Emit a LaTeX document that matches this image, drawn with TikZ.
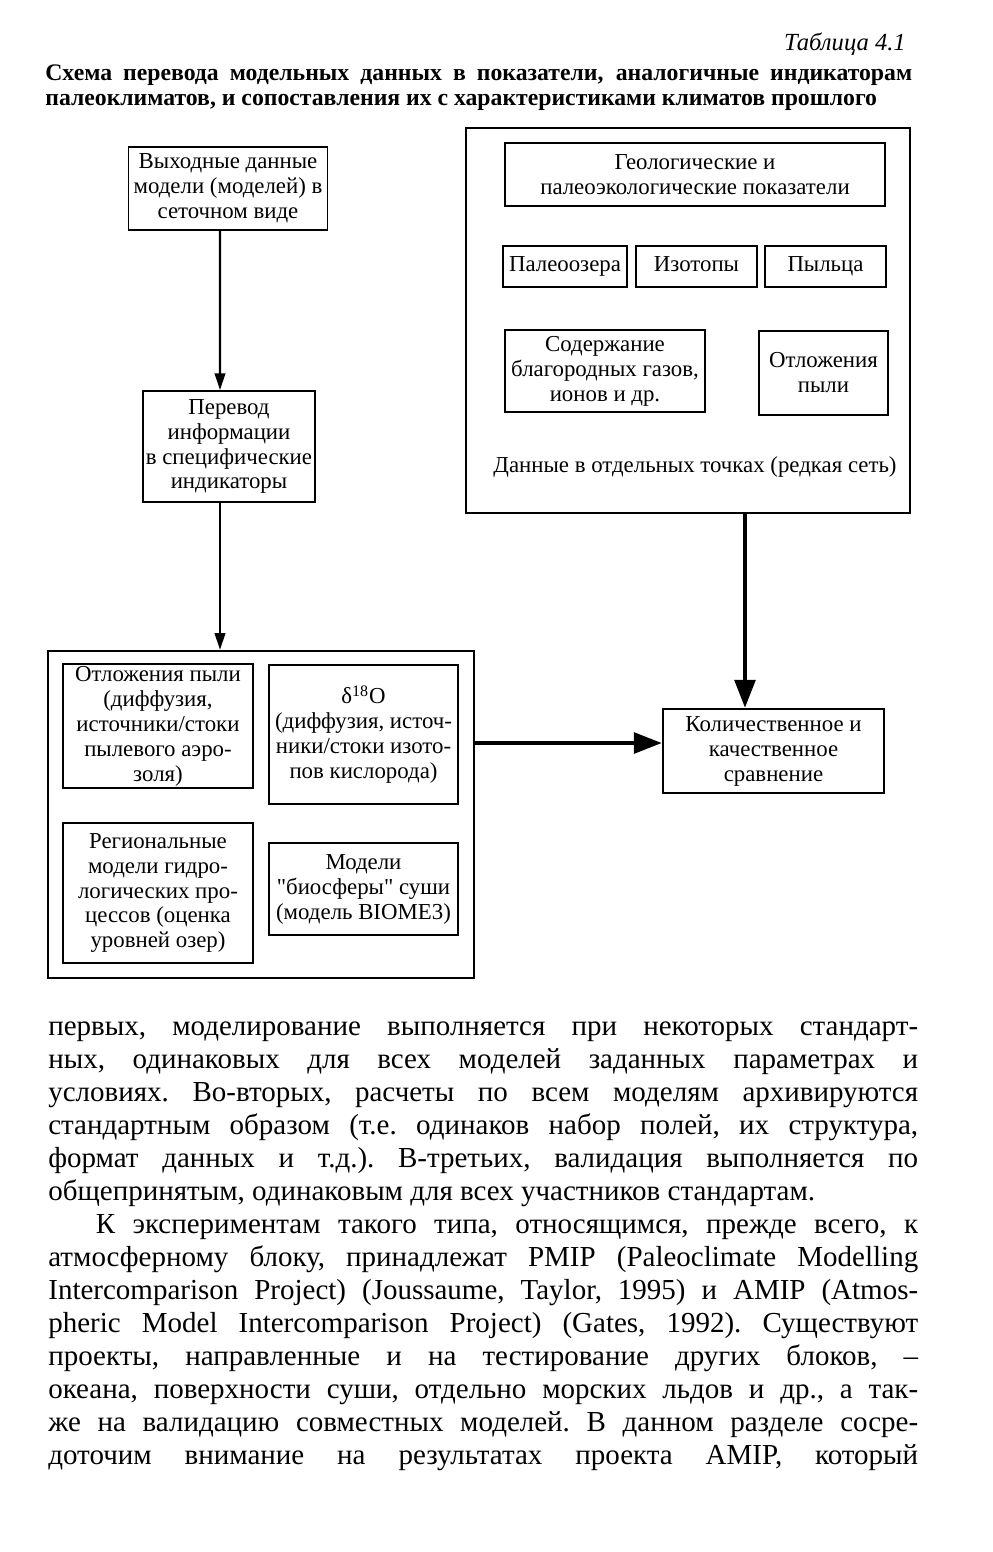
\documentclass[tikz,border=0pt]{standalone}
\usepackage{fontspec}
\setmainfont{Liberation Serif}[Ligatures=TeXOff]
\usetikzlibrary{arrows.meta}
\newcommand\fullline[1]{\hbox to 17.4cm{#1}}
\begin{document}
\begin{tikzpicture}[x=0.02cm,y=-0.02cm,
  blk/.style={draw,line width=1.1pt,align=center,inner sep=1pt,
    font=\fontsize{13}{14.2}\selectfont},
  frm/.style={draw,line width=1.4pt,inner sep=0pt},
  tag/.style={blk,minimum height=0.82cm,text height=1.6ex,text depth=.4ex},
  thin arrow/.style={line width=1.2pt,-{Triangle[length=9.5pt,width=6pt]}},
  thick arrow/.style={line width=2.8pt,-{Triangle[length=16pt,width=11.5pt]}}]
  \useasboundingbox[fill=white] (0,0) rectangle (992,1552);
  \node[anchor=base east,font=\itshape\fontsize{14}{16}\selectfont] (tab) at (912,50) {Таблица 4.1};
  \node[anchor=north west,inner sep=0pt,font=\bfseries\fontsize{13.5}{14.2}\selectfont] (title) at (45,64)
    {\vbox{\hbox to 17.34cm{Схема перевода модельных данных в показатели, аналогичные индикаторам}
     \hbox{палеоклиматов, и сопоставления их с характеристиками климатов прошлого}}};
  \node[blk,minimum width=3.98cm,minimum height=1.66cm] (out) at (228,188.5)
    {Выходные данные\\модели (моделей) в\\сеточном виде};
  \node[blk,minimum width=3.44cm,minimum height=2.22cm] (conv) at (229,446.5)
    {Перевод\\информации\\в специфические\\индикаторы};
  \node[frm,minimum width=8.52cm,minimum height=6.54cm] (models) at (261,814.5) {};
  \node[blk,minimum width=3.8cm,minimum height=2.44cm] (dust) at (158,726)
    {Отложения пыли\\(диффузия,\\источники/стоки\\пылевого аэро-\\золя)};
  \node[blk,minimum width=3.78cm,minimum height=2.78cm] (oxy) at (363.5,734.5)
    {δ\textsuperscript{18}O\\(диффузия, источ-\\ники/стоки изото-\\пов кислорода)};
  \node[blk,minimum width=3.8cm,minimum height=2.8cm] (hydro) at (158,893)
    {Региональные\\модели гидро-\\логических про-\\цессов (оценка\\уровней озер)};
  \node[blk,minimum width=3.78cm,minimum height=1.84cm] (biome) at (363.5,889)
    {Модели\\"биосферы" суши\\(модель BIOME3)};
  \node[frm,minimum width=8.88cm,minimum height=7.7cm] (proxies) at (688,320.5) {};
  \node[blk,minimum width=7.6cm,minimum height=1.26cm] (geo) at (695,174.5)
    {Геологические и\\палеоэкологические показатели};
  \node[tag,minimum width=2.48cm] (lakes) at (565,266.5) {Палеоозера};
  \node[tag,minimum width=2.42cm] (isot) at (696.5,266.5) {Изотопы};
  \node[tag,minimum width=2.42cm] (pollen) at (825.5,266.5) {Пыльца};
  \node[blk,minimum width=4cm,minimum height=1.64cm] (gases) at (605,371)
    {Содержание\\благородных газов,\\ионов и др.};
  \node[blk,minimum width=2.58cm,minimum height=1.68cm] (dustpt) at (823.5,373)
    {Отложения\\пыли};
  \node[font=\fontsize{13}{14.2}\selectfont] (sparse) at (695,467)
    {Данные в отдельных точках (редкая сеть)};
  \node[blk,minimum width=4.42cm,minimum height=1.68cm] (cmp) at (773.5,751)
    {Количественное и\\качественное\\сравнение};
  \draw[thin arrow] ([xshift=-0.16cm]out.south) -- ([xshift=-0.18cm]conv.north);
  \draw[thin arrow] ([xshift=-0.18cm]conv.south) -- ([xshift=-0.18cm]conv.south |- models.north);
  \draw[thick arrow] ([xshift=1.14cm]proxies.south) -- ([xshift=1.14cm]proxies.south |- cmp.north);
  \draw[thick arrow] ([yshift=1.43cm]models.east) -- ([yshift=1.43cm]models.east -| cmp.west);
  \node[anchor=north west,inner sep=0pt,font=\frenchspacing\fontsize{16.5}{18.8}\selectfont] (body) at (48,1021)
    {\vbox{\fullline{первых, моделирование выполняется при некоторых стандарт-}
     \fullline{ных, одинаковых для всех моделей заданных параметрах и}
     \fullline{условиях. Во-вторых, расчеты по всем моделям архивируются}
     \fullline{стандартным образом (т.е. одинаков набор полей, их структура,}
     \fullline{формат данных и т.д.). В-третьих, валидация выполняется по}
     \hbox{общепринятым, одинаковым для всех участников стандартам.}
     \fullline{\hskip0.95cm К экспериментам такого типа, относящимся, прежде всего, к}
     \fullline{атмосферному блоку, принадлежат PMIP (Paleoclimate Modelling}
     \fullline{Intercomparison Project) (Joussaume, Taylor, 1995) и AMIP (Atmos-}
     \fullline{pheric Model Intercomparison Project) (Gates, 1992). Существуют}
     \fullline{проекты, направленные и на тестирование других блоков, –}
     \fullline{океана, поверхности суши, отдельно морских льдов и др., а так-}
     \fullline{же на валидацию совместных моделей. В данном разделе сосре-}
     \fullline{доточим внимание на результатах проекта AMIP, который}}};
\end{tikzpicture}
\end{document}
